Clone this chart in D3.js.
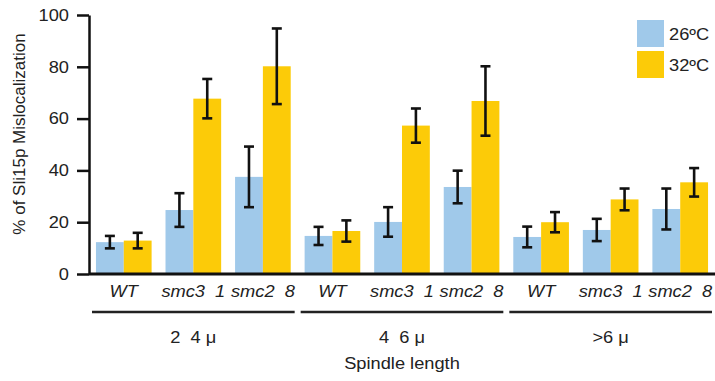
<!DOCTYPE html>
<html>
<head>
<meta charset="utf-8">
<script src="https://cdn.jsdelivr.net/npm/d3@7"></script>
<style>
  body { margin: 0; background: #fff; }
  svg { display: block; font-family: "Liberation Sans", Arial, sans-serif; }
</style>
</head>
<body>
<div id="chart"></div>
<script>
// Data
const groups = ["2\u00a0 4 μ", "4\u00a0 6 μ", ">6 μ"];
const strains = ["WT", "smc3\u00a0 1", "smc2\u00a0 8"];
const series = ["26ºC", "32ºC"];
const mean26 = [12.3, 24.7, 37.5, 14.7, 20.1, 33.6, 14.3, 17.0, 25.1];
const err26 = [2.4, 6.5, 11.7, 3.5, 5.7, 6.3, 4.0, 4.3, 7.9];
const mean32 = [12.9, 67.7, 80.2, 16.6, 57.3, 66.8, 20.0, 28.8, 35.4];
const err32 = [3.0, 7.6, 14.6, 4.1, 6.6, 13.4, 3.9, 4.2, 5.5];
const yTicks = [0, 20, 40, 60, 80, 100];

const colors = { "26ºC": "#a0c9ea", "32ºC": "#fccb08" };

const width = 715;
const height = 381;
const margin = { top: 15, right: 0, bottom: 107, left: 89 };
const fs = 16.6;      // font size
const sx = 1.1;       // the original lettering is slightly wide

// one row per bar cluster
const rows = [];
groups.forEach((g, gi) => {
  strains.forEach((s, si) => {
    const i = gi * strains.length + si;
    rows.push({
      id: i, group: g, strain: s,
      vals: [
        { key: series[0], v: mean26[i], e: err26[i] },
        { key: series[1], v: mean32[i], e: err32[i] }
      ]
    });
  });
});

const svg = d3.select("#chart")
  .append("svg")
  .attr("width", width)
  .attr("height", height);

// helper for horizontally stretched labels
function label(x, y, txt, anchor) {
  return svg.append("text")
    .attr("transform", `translate(${x},${y}) scale(${sx},1)`)
    .attr("text-anchor", anchor || "middle")
    .style("font-size", fs + "px")
    .attr("fill", "#222")
    .text(txt);
}

const x0 = d3.scaleBand()
  .domain(rows.map(d => d.id))
  .range([margin.left, width - margin.right])
  .paddingInner(0.2)
  .paddingOuter(0.1);

const x1 = d3.scaleBand()
  .domain(series)
  .range([0, x0.bandwidth()]);

const y = d3.scaleLinear()
  .domain([0, 100])
  .range([height - margin.bottom, margin.top]);

// Bars
const cluster = svg.selectAll("g.cluster")
  .data(rows)
  .enter()
  .append("g")
  .attr("class", "cluster")
  .attr("transform", d => `translate(${x0(d.id)},0)`);

cluster.selectAll("rect")
  .data(d => d.vals)
  .enter()
  .append("rect")
  .attr("x", d => x1(d.key))
  .attr("y", d => y(d.v))
  .attr("width", x1.bandwidth())
  .attr("height", d => y(0) - y(d.v))
  .attr("fill", d => colors[d.key]);

// Error bars
const capW = 10;
const cx = d => x1(d.key) + x1.bandwidth() / 2;
const eb = cluster.selectAll("g.err")
  .data(d => d.vals)
  .enter()
  .append("g")
  .attr("class", "err")
  .attr("stroke", "#111")
  .attr("stroke-width", 2.6);

eb.append("line")
  .attr("x1", cx).attr("x2", cx)
  .attr("y1", d => y(d.v + d.e))
  .attr("y2", d => y(d.v - d.e));

eb.append("line")
  .attr("x1", d => cx(d) - capW / 2)
  .attr("x2", d => cx(d) + capW / 2)
  .attr("y1", d => y(d.v + d.e))
  .attr("y2", d => y(d.v + d.e));

eb.append("line")
  .attr("x1", d => cx(d) - capW / 2)
  .attr("x2", d => cx(d) + capW / 2)
  .attr("y1", d => y(d.v - d.e))
  .attr("y2", d => y(d.v - d.e));

// Y axis
const yAxis = svg.append("g")
  .attr("transform", `translate(${margin.left},0)`)
  .call(d3.axisLeft(y).tickValues(yTicks).tickSize(12).tickSizeOuter(0));
yAxis.select(".domain").attr("stroke", "#111").attr("stroke-width", 2.5);
yAxis.selectAll(".tick line").attr("stroke", "#111").attr("stroke-width", 2.5);
yAxis.selectAll(".tick text")
  .attr("x", null)
  .attr("transform", `translate(-20,0) scale(${sx},1)`)
  .attr("fill", "#222")
  .style("font-size", fs + "px")
  .style("font-family", "'Liberation Sans', Arial, sans-serif");

// X axis baseline
svg.append("line")
  .attr("x1", margin.left)
  .attr("x2", width)
  .attr("y1", y(0))
  .attr("y2", y(0))
  .attr("stroke", "#111")
  .attr("stroke-width", 2.8);

// Strain labels
rows.forEach(d => {
  label(x0(d.id) + x0.bandwidth() / 2, 297, d.strain)
    .style("font-style", "italic");
});

// Group lines and labels
const step = x0.step();
groups.forEach((g, gi) => {
  const first = x0(gi * strains.length);
  const last = x0(gi * strains.length + strains.length - 1) + x0.bandwidth();
  const left = first - step * 0.1;
  const right = gi === groups.length - 1 ? width : last + step * 0.1;
  svg.append("line")
    .attr("x1", left + 3)
    .attr("x2", right - 3)
    .attr("y1", 312)
    .attr("y2", 312)
    .attr("stroke", "#222")
    .attr("stroke-width", 2.6);
  label((first + last) / 2, 343, g);
});

// Axis titles
label((margin.left + width) / 2, 369, "Spindle length");

svg.append("text")
  .attr("transform", "translate(25,134) rotate(-90)")
  .attr("text-anchor", "middle")
  .style("font-size", "17px")
  .attr("fill", "#222")
  .text("% of Sli15p Mislocalization");

// Legend
series.forEach((s, i) => {
  svg.append("rect")
    .attr("x", 637)
    .attr("y", 20 + i * 31)
    .attr("width", 27)
    .attr("height", 27)
    .attr("fill", colors[s]);
  label(669, 20 + i * 31 + 19.5, s, "start");
});
</script>
</body>
</html>
